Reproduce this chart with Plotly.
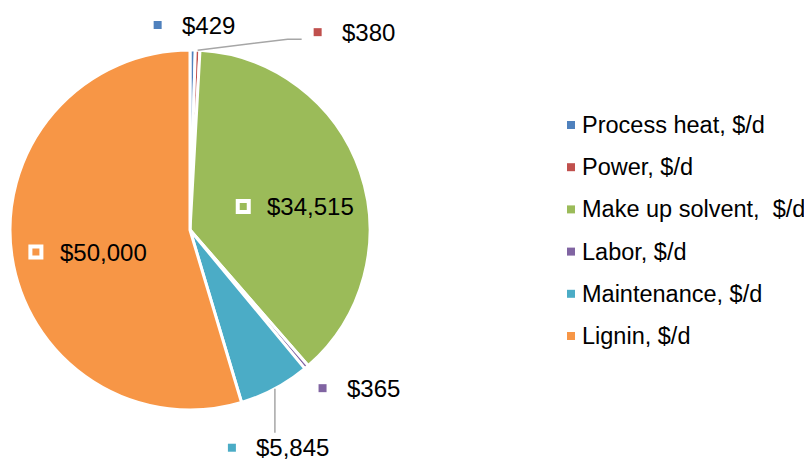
import math
import plotly.graph_objects as go

# ---- data ----
categories = ["Process heat, $/d", "Power, $/d", "Make up solvent,  $/d",
              "Labor, $/d", "Maintenance, $/d", "Lignin, $/d"]
values = [429, 380, 34515, 365, 5845, 50000]
label_texts = ["$429", "$380", "$34,515", "$365", "$5,845", "$50,000"]

# ---- style ----
colors = ["#4F81BD", "#C0504D", "#9BBB59", "#8064A2", "#4BACC6", "#F79646"]
OFF = 8                      # page body margin of the html page
W, H = 812 - OFF, 460 - OFF  # figure size so that it fills the window
CX, CY, R = 190, 230, 180    # window pixels
FONT = "Liberation Sans, Arial, sans-serif"
FS = 24
LFS = 23.5
# data-label marker offset (px) from the mid-point of each slice's outer edge
label_offsets = [(-35, -25), (120, -18), (-117, 35), (16, 21), (-43, 59), (24, -4)]
label_inside = [False, False, True, False, False, True]
# leader line bends (px offsets from the slice edge mid-point)
leaders = [None, [(90, -11), (104, -11)], None, None, [(0, 44)], None]


def px(x):
    return (x - OFF) / W


def py(y):
    return 1 - (y - OFF) / H


fig = go.Figure(go.Pie(
    labels=categories, values=values, sort=False, direction="clockwise",
    rotation=0, marker=dict(colors=colors, line=dict(color="white", width=3)),
    textinfo="none", hoverinfo="label+value", showlegend=False,
    domain=dict(x=[px(CX - R), px(CX + R)], y=[py(CY + R), py(CY - R)]),
))

shapes, annotations = [], []
total = sum(values)
cum = 0
for i, v in enumerate(values):
    mid = (cum + v / 2) / total * 2 * math.pi
    cum += v
    ex, ey = CX + R * math.sin(mid), CY - R * math.cos(mid)
    mx, my = ex + label_offsets[i][0], ey + label_offsets[i][1]
    if leaders[i]:
        pts = [(ex, ey)] + [(ex + dx, ey + dy) for dx, dy in leaders[i]]
        path = "M " + " L ".join(f"{px(a)},{py(b)}" for a, b in pts)
        shapes.append(dict(type="path", xref="paper", yref="paper", path=path,
                           line=dict(color="#A6A6A6", width=1.5)))
    if label_inside[i]:
        s = 5.5
        shapes.append(dict(type="rect", xref="paper", yref="paper",
                           x0=px(mx - s), x1=px(mx + s), y0=py(my + s), y1=py(my - s),
                           fillcolor=colors[i], line=dict(color="white", width=4)))
    else:
        s = 4
        shapes.append(dict(type="rect", xref="paper", yref="paper",
                           x0=px(mx - s), x1=px(mx + s), y0=py(my + s), y1=py(my - s),
                           fillcolor=colors[i], line=dict(width=0)))
    annotations.append(dict(x=px(mx + 22), y=py(my), xref="paper", yref="paper",
                            text=label_texts[i], showarrow=False, xanchor="left",
                            yanchor="middle", font=dict(family=FONT, size=FS, color="black")))

# legend (drawn manually to match spacing)
LX, LY0, LDY = 571, 125, 42.2
for i, name in enumerate(categories):
    y = LY0 + i * LDY
    shapes.append(dict(type="rect", xref="paper", yref="paper",
                       x0=px(LX - 4), x1=px(LX + 4), y0=py(y + 4), y1=py(y - 4),
                       fillcolor=colors[i], line=dict(width=0)))
    annotations.append(dict(x=px(LX + 8.5), y=py(y), xref="paper", yref="paper",
                            text=name.replace("  ", "&nbsp; "), showarrow=False,
                            xanchor="left", yanchor="middle",
                            font=dict(family=FONT, size=LFS, color="black")))

fig.update_layout(width=W, height=H, margin=dict(l=0, r=0, t=0, b=0),
                  paper_bgcolor="white", plot_bgcolor="white",
                  shapes=shapes, annotations=annotations)
fig.write_html("out.html")
